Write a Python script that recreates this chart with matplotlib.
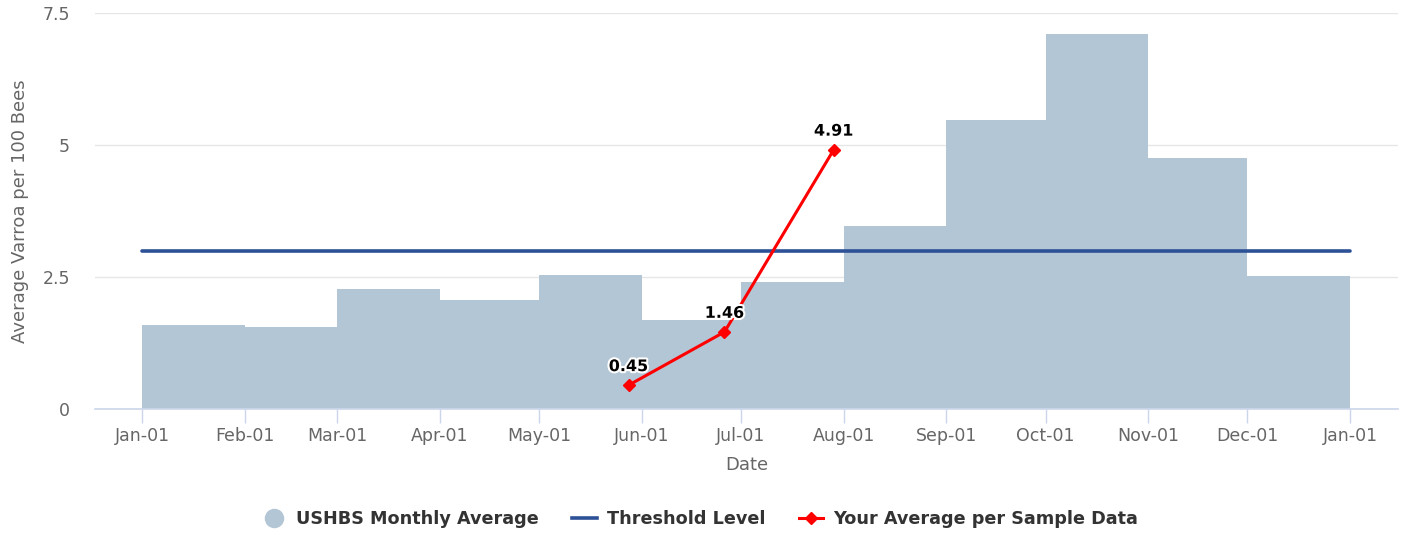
import matplotlib
matplotlib.use("Agg")
import matplotlib.pyplot as plt
import matplotlib.dates as mdates
import matplotlib.patheffects as pe
from matplotlib.lines import Line2D
from datetime import datetime, timedelta

# monthly USHBS averages (Jan..Dec)
month_starts = [datetime(2021, m, 1) for m in range(1, 13)]
month_ends = month_starts[1:] + [datetime(2022, 1, 1)]
ushbs_avg = [1.59, 1.55, 2.27, 2.06, 2.53, 1.69, 2.41, 3.47, 5.47, 7.10, 4.75, 2.51]

threshold_dates = [datetime(2021, 1, 1), datetime(2022, 1, 1)]
threshold_vals = [3.0, 3.0]

sample_dates = [datetime(2021, 5, 28), datetime(2021, 6, 26), datetime(2021, 7, 29)]
sample_vals = [0.45, 1.46, 4.91]

bar_col = "#b3c6d5"
thr_col = "#2c5196"
red = "#ff0000"
grey = "#666666"

fig = plt.figure(figsize=(14.11, 5.35), dpi=100)
ax = fig.add_axes([95 / 1411, 126 / 535, 1303 / 1411, 396 / 535])

widths = [(e - s).days for s, e in zip(month_starts, month_ends)]
ax.bar(month_starts, ushbs_avg, width=widths, align="edge", color=bar_col,
       linewidth=0, zorder=2)
ax.plot(threshold_dates, threshold_vals, color=thr_col, lw=2.6, zorder=3,
        solid_capstyle="round")
ax.plot(sample_dates, sample_vals, color=red, lw=2.2, marker="D", ms=6,
        zorder=4)
for d, v in zip(sample_dates, sample_vals):
    ax.annotate(f"{v:.2f}", (d, v), xytext=(0, 8), textcoords="offset points",
                ha="center", va="bottom", fontsize=11.5, fontweight="bold",
                color="black", zorder=5,
                path_effects=[pe.withStroke(linewidth=3, foreground="white")])

ax.set_ylim(0, 7.5)
ax.set_yticks([0, 2.5, 5, 7.5])
ax.set_yticklabels(["0", "2.5", "5", "7.5"])
ax.set_xlim(datetime(2021, 1, 1) - timedelta(days=14.2),
            datetime(2022, 1, 1) + timedelta(days=14.5))
ax.xaxis.set_major_locator(mdates.MonthLocator())
ax.xaxis.set_major_formatter(mdates.DateFormatter("%b-%d"))

ax.grid(axis="y", color="#e6e6e6", lw=1, zorder=0)
ax.set_axisbelow(True)
for s in ["top", "right", "left"]:
    ax.spines[s].set_visible(False)
ax.spines["bottom"].set_color("#ccd6eb")
ax.spines["bottom"].set_linewidth(1.2)
ax.tick_params(axis="x", length=10, width=1, color="#ccd6eb", labelsize=12.5,
               labelcolor=grey, pad=3)
ax.tick_params(axis="y", length=0, labelsize=12.5, labelcolor=grey, pad=18)

ax.set_xlabel("Date", fontsize=13, color=grey, labelpad=8)
ax.set_ylabel("Average Varroa per 100 Bees", fontsize=13, color=grey, labelpad=10)

handles = [
    Line2D([], [], linestyle="none", marker="o", ms=13, color=bar_col),
    Line2D([], [], color=thr_col, lw=2.6),
    Line2D([], [], color=red, lw=2.2, marker="D", ms=6),
]
labels = ["USHBS Monthly Average", "Threshold Level", "Your Average per Sample Data"]
fig.legend(handles, labels, loc="center", bbox_to_anchor=(0.496, 16 / 535),
           ncol=3, frameon=False, handlelength=1.4, columnspacing=1.9,
           handletextpad=0.55, prop={"weight": "bold", "size": 12.7})
for t in fig.legends[0].get_texts():
    t.set_color("#333333")

fig.savefig("out.png", dpi=100)
